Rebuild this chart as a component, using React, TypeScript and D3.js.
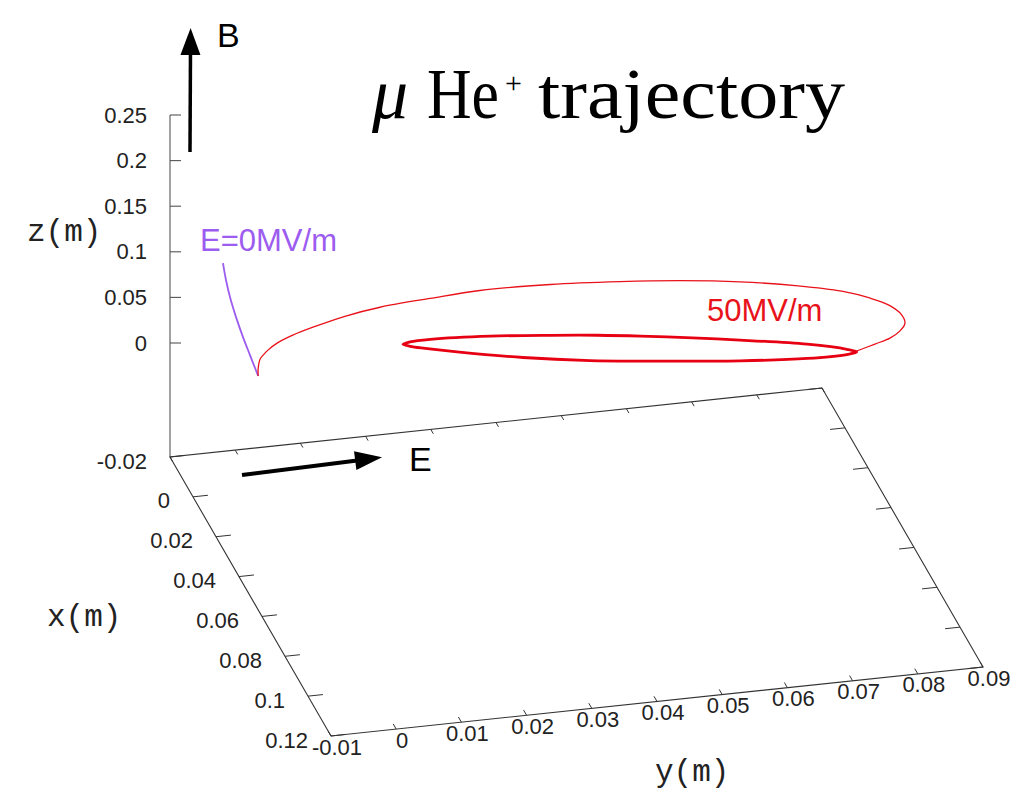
import React from 'react';
import * as d3 from 'd3';

// ---------- data ----------
const xTicks = [-0.02, 0, 0.02, 0.04, 0.06, 0.08, 0.1, 0.12];
const xTickLabels = ['-0.02', '0', '0.02', '0.04', '0.06', '0.08', '0.1', '0.12'];
const yTicks = [-0.01, 0, 0.01, 0.02, 0.03, 0.04, 0.05, 0.06, 0.07, 0.08, 0.09];
const yTickLabels = ['-0.01', '0', '0.01', '0.02', '0.03', '0.04', '0.05', '0.06', '0.07', '0.08', '0.09'];
const zTicks = [0, 0.05, 0.1, 0.15, 0.2, 0.25];
const zTickLabels = ['0', '0.05', '0.1', '0.15', '0.2', '0.25'];

const xRange = [-0.02, 0.12];
const yRange = [-0.01, 0.09];
const zRange = [0, 0.25];
const ticsLevel = 0.5;

// trajectories (x = 0 plane)
const trajX = 0;
// E = 0 MV/m
const purpleY = [0.0, -0.00126, -0.00233, -0.0034, -0.00433, -0.00494, -0.0054];
const purpleZ = [0.0, 0.0238, 0.0444, 0.0671, 0.0898, 0.1089, 0.1279];
// 50 MV/m : first large arc
const arcY = [0.0, 0.0, 0.0003, 0.0009, 0.0015, 0.0029, 0.0053, 0.0084, 0.0133, 0.0187, 0.0264, 0.034, 0.0448, 0.0555, 0.0647, 0.0739, 0.0828, 0.0895, 0.0939, 0.0968, 0.0986, 0.0992, 0.0984, 0.0969, 0.0946, 0.0918, 0.0903, 0.0842, 0.0739];
const arcZ = [0.0, 0.0086, 0.0183, 0.0233, 0.0272, 0.0338, 0.0407, 0.0471, 0.0554, 0.0612, 0.0651, 0.068, 0.0664, 0.0614, 0.0555, 0.0473, 0.0362, 0.0252, 0.0142, 0.0042, -0.0068, -0.0171, -0.0253, -0.0318, -0.0366, -0.0421, -0.0448, -0.0445, -0.0393];
// 50 MV/m : repeated small loop
const loopY = [0.0918, 0.0903, 0.0842, 0.0739, 0.0586, 0.0509, 0.0406, 0.0305, 0.0256, 0.0233, 0.0222, 0.0233, 0.0264, 0.0356, 0.0448, 0.052, 0.0586, 0.0739, 0.0842, 0.0903];
const loopZ = [-0.0432, -0.0448, -0.0445, -0.0393, -0.0281, -0.0217, -0.0105, 0.0033, 0.0109, 0.0149, 0.0179, 0.0198, 0.0202, 0.0167, 0.0107, 0.0053, -0.0007, -0.0166, -0.0289, -0.0391];

// ---------- layout ----------
const W = 1017;
const H = 790;
const corner = [170, 457];
const vx = [161, 279];
const vy = [652, -69];

const xS = d3.scaleLinear().domain(xRange).range([0, 1]);
const yS = d3.scaleLinear().domain(yRange).range([0, 1]);
const zS = d3.scaleLinear().domain(zRange).range([343, 115]);
const zBase = zRange[0] - ticsLevel * (zRange[1] - zRange[0]);

function proj(x: number, y: number, z: number): [number, number] {
  const a = xS(x);
  const b = yS(y);
  return [corner[0] + a * vx[0] + b * vy[0], zS(z) - zS(zBase) + corner[1] + a * vx[1] + b * vy[1]];
}

const line = d3.line<[number, number]>().x(d => d[0]).y(d => d[1]).curve(d3.curveCatmullRom.alpha(0.5));
const loopLine = d3.line<[number, number]>().x(d => d[0]).y(d => d[1]).curve(d3.curveCatmullRomClosed.alpha(0.5));

function arrowHead(sx: number, sy: number, tx: number, ty: number, len: number, hw: number) {
  const dx = tx - sx, dy = ty - sy;
  const L = Math.hypot(dx, dy);
  const ux = dx / L, uy = dy / L;
  const bx = tx - ux * len, by = ty - uy * len;
  const nx = -uy, ny = ux;
  return {
    line: `M${sx},${sy}L${bx + ux * 2},${by + uy * 2}`,
    head: `M${tx},${ty}L${bx + nx * hw},${by + ny * hw}L${bx - nx * hw},${by - ny * hw}Z`,
  };
}

const sans = "'Liberation Sans', Arial, Helvetica, sans-serif";
const mono = "'Liberation Mono', 'Courier New', monospace";
const serif = "'Liberation Serif', 'Times New Roman', serif";

export default function App() {
  const axisColor = '#333';
  const [x0, x1] = xRange;
  const [y0, y1] = yRange;
  const c00 = proj(x0, y0, zBase);
  const c10 = proj(x1, y0, zBase);
  const c11 = proj(x1, y1, zBase);
  const c01 = proj(x0, y1, zBase);
  const zTop = proj(x0, y0, zRange[1]);

  const uy = [vy[0] / Math.hypot(vy[0], vy[1]), vy[1] / Math.hypot(vy[0], vy[1])];
  const ux = [vx[0] / Math.hypot(vx[0], vx[1]), vx[1] / Math.hypot(vx[0], vx[1])];

  const purplePts = purpleY.map((y, i) => proj(trajX, y, purpleZ[i]));
  const arcPts = arcY.map((y, i) => proj(trajX, y, arcZ[i]));
  const loopPts = loopY.map((y, i) => proj(trajX, y, loopZ[i]));

  const eArrow = arrowHead(242, 475, 382, 457.3, 27, 9.5);
  const bArrow = arrowHead(190, 152, 190.6, 28, 27, 10);

  return (
    <div style={{ position: 'fixed', left: 0, top: 0 }}>
      <svg width={W} height={H} viewBox={`0 0 ${W} ${H}`} style={{ display: 'block', background: '#fff' }}>
        <rect x={0} y={0} width={W} height={H} fill="#fff" />
        {/* base plane */}
        <path d={`M${c00}L${c10}L${c11}L${c01}Z`} fill="none" stroke={axisColor} strokeWidth={1.1} />
        {/* z axis */}
        <line x1={c00[0]} y1={c00[1]} x2={zTop[0]} y2={zTop[1]} stroke="#555" strokeWidth={1.1} />
        {zTicks.map((z, i) => {
          const p = proj(x0, y0, z);
          return (
            <g key={'z' + i}>
              <line x1={p[0]} y1={p[1]} x2={p[0] + 11} y2={p[1]} stroke="#555" strokeWidth={1.1} />
              <text x={147} y={p[1]} textAnchor="end" dominantBaseline="central" fontFamily={sans} fontSize={22} fill="#222">{zTickLabels[i]}</text>
            </g>
          );
        })}
        {/* x ticks */}
        {xTicks.map((x, i) => {
          const p = proj(x, y0, zBase);
          const q = proj(x, y1, zBase);
          return (
            <g key={'x' + i}>
              <line x1={p[0]} y1={p[1]} x2={p[0] + uy[0] * 15} y2={p[1] + uy[1] * 15} stroke={axisColor} strokeWidth={1} />
              <line x1={q[0]} y1={q[1]} x2={q[0] - uy[0] * 15} y2={q[1] - uy[1] * 15} stroke={axisColor} strokeWidth={1} />
              <text x={p[0] - 23} y={p[1] + 4} textAnchor="end" dominantBaseline="central" fontFamily={sans} fontSize={22} fill="#222">{xTickLabels[i]}</text>
            </g>
          );
        })}
        {/* y ticks */}
        {yTicks.map((y, i) => {
          const p = proj(x1, y, zBase);
          const q = proj(x0, y, zBase);
          return (
            <g key={'y' + i}>
              <line x1={p[0]} y1={p[1]} x2={p[0] - ux[0] * 6} y2={p[1] - ux[1] * 6} stroke={axisColor} strokeWidth={1} />
              <line x1={q[0]} y1={q[1]} x2={q[0] + ux[0] * 5} y2={q[1] + ux[1] * 5} stroke={axisColor} strokeWidth={1} />
              <text x={p[0] + 6} y={p[1] + 11} textAnchor="middle" dominantBaseline="central" fontFamily={sans} fontSize={22} fill="#222">{yTickLabels[i]}</text>
            </g>
          );
        })}
        {/* axis labels */}
        <text x={27} y={241} fontFamily={mono} fontSize={31} fill="#222">z(m)</text>
        <text x={47} y={626} fontFamily={mono} fontSize={31} fill="#222">x(m)</text>
        <text x={655} y={781} fontFamily={mono} fontSize={31} fill="#222">y(m)</text>

        {/* trajectories */}
        <path d={line(purplePts) || ''} fill="none" stroke="#9d5cf0" strokeWidth={1.8} />
        <path d={line(arcPts) || ''} fill="none" stroke="#e8121a" strokeWidth={1.3} />
        <path d={loopLine(loopPts) || ''} fill="none" stroke="#e60012" strokeWidth={2.8} />

        {/* series labels */}
        <text x={200} y={251} fontFamily={sans} fontSize={31} fill="#9d5cf0">E=0MV/m</text>
        <text x={707} y={321} fontFamily={sans} fontSize={31} fill="#e8121a">50MV/m</text>

        {/* field arrows */}
        <path d={eArrow.line} stroke="#000" strokeWidth={4} fill="none" />
        <path d={eArrow.head} fill="#000" />
        <text x={409} y={471} fontFamily={sans} fontSize={34} fill="#000">E</text>
        <path d={bArrow.line} stroke="#000" strokeWidth={3.5} fill="none" />
        <path d={bArrow.head} fill="#000" />
        <text x={217} y={47} fontFamily={sans} fontSize={34} fill="#000">B</text>

        {/* title */}
        <text y={118} fontFamily={serif} fontSize={72} fill="#000">
          <tspan x={372} fontStyle="italic">μ</tspan>
          <tspan x={427} textLength={72} lengthAdjust="spacingAndGlyphs">He</tspan>
          <tspan x={505} fontSize={30} dy={-25}>+</tspan>
          <tspan x={538} dy={25} textLength={307} lengthAdjust="spacingAndGlyphs">trajectory</tspan>
        </text>
      </svg>
    </div>
  );
}
